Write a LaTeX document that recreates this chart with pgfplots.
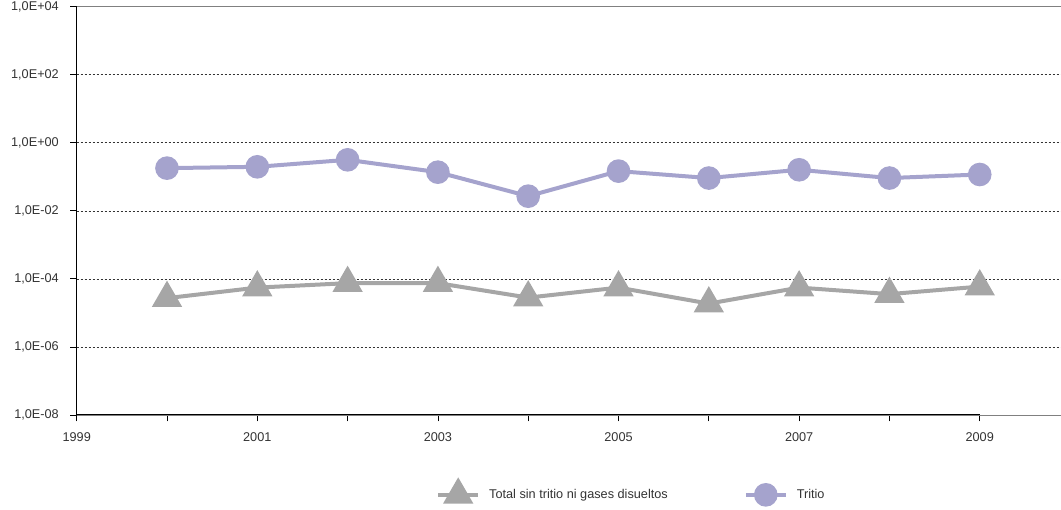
\documentclass[border=0pt]{standalone}
\usepackage{fontspec}
\setmainfont{Liberation Sans}
\usepackage{pgfplots}
\pgfplotsset{compat=1.18}
\definecolor{trit}{HTML}{A5A3CD}
\definecolor{tot}{HTML}{A6A6A6}
\begin{document}
\fontsize{12.7pt}{14pt}\selectfont
\begin{tikzpicture}
\useasboundingbox (-76.7pt,-95pt) rectangle (984.3pt,415pt);
\begin{axis}[
  at={(0pt,0pt)}, anchor=south west,
  scale only axis,
  width=984.3pt, height=408.3pt,
  xmin=1999, xmax=2009.9,
  ymode=log, ymin=1e-8, ymax=1e4,
  ytick={1e-8,1e-6,1e-4,1e-2,1,1e2,1e4},
  yticklabels={{1,0E-08},{1,0E-06},{1,0E-04},{1,0E-02},{1,0E+00},{1,0E+02},{1,0E+04}},
  yminorticks=false,
  xtick={1999,2000,2001,2002,2003,2004,2005,2006,2007,2008,2009},
  xticklabels={1999,,2001,,2003,,2005,,2007,,2009},
  tick align=outside,
  major tick length=6.5pt,
  tick style={black, line width=0.8pt},
  axis x line*=bottom, axis y line*=left,
  x axis line style={-, gray, line width=0.8pt},
  y axis line style={-, black, line width=1pt},
  ymajorgrids,
  major grid style={black!80, line width=0.6pt, dash pattern=on 2pt off 2pt},
  ticklabel style={font=\fontsize{12.7pt}{14pt}\selectfont, text=black!80},
  yticklabel style={xshift=-7pt},
  xticklabel style={yshift=-7pt},
  legend style={draw=none, fill=none, at={(axis description cs:0.362,-0.191)}, anchor=west,
    font=\fontsize{12.7pt}{14pt}\selectfont, text=black!80,
    /tikz/every odd column/.append style={column sep=7pt},
    /tikz/every even column/.append style={column sep=74pt}},
  legend columns=2,
  legend image code/.code={\draw[mark repeat=2,mark phase=2,#1] plot coordinates {(0pt,0pt)(20pt,0pt)(40pt,0pt)};},
  clip=false,
]
\addplot[tot, line width=4pt, mark=triangle*, mark size=13.5pt, mark options={solid, fill=tot, draw=none}] coordinates {
(2000,2.72e-5) (2001,5.55e-5) (2002,7.5e-5) (2003,7.5e-5) (2004,2.82e-5)
(2005,5.55e-5) (2006,1.88e-5) (2007,5.55e-5) (2008,3.57e-5) (2009,5.94e-5)};
\addlegendentry{Total sin tritio ni gases disueltos}
\addplot[trit, line width=4pt, mark=*, mark size=9.8pt, mark options={solid, fill=trit, draw=none}] coordinates {
(2000,0.18) (2001,0.197) (2002,0.316) (2003,0.137) (2004,0.027)
(2005,0.147) (2006,0.092) (2007,0.161) (2008,0.092) (2009,0.117)};
\addlegendentry{Tritio}
\draw[gray, line width=1.3pt] (rel axis cs:0,1) -- (rel axis cs:1,1);
\draw[black, line width=1pt] (axis cs:1999,1e-8) -- (axis cs:2009,1e-8);
\end{axis}
\end{tikzpicture}
\end{document}
